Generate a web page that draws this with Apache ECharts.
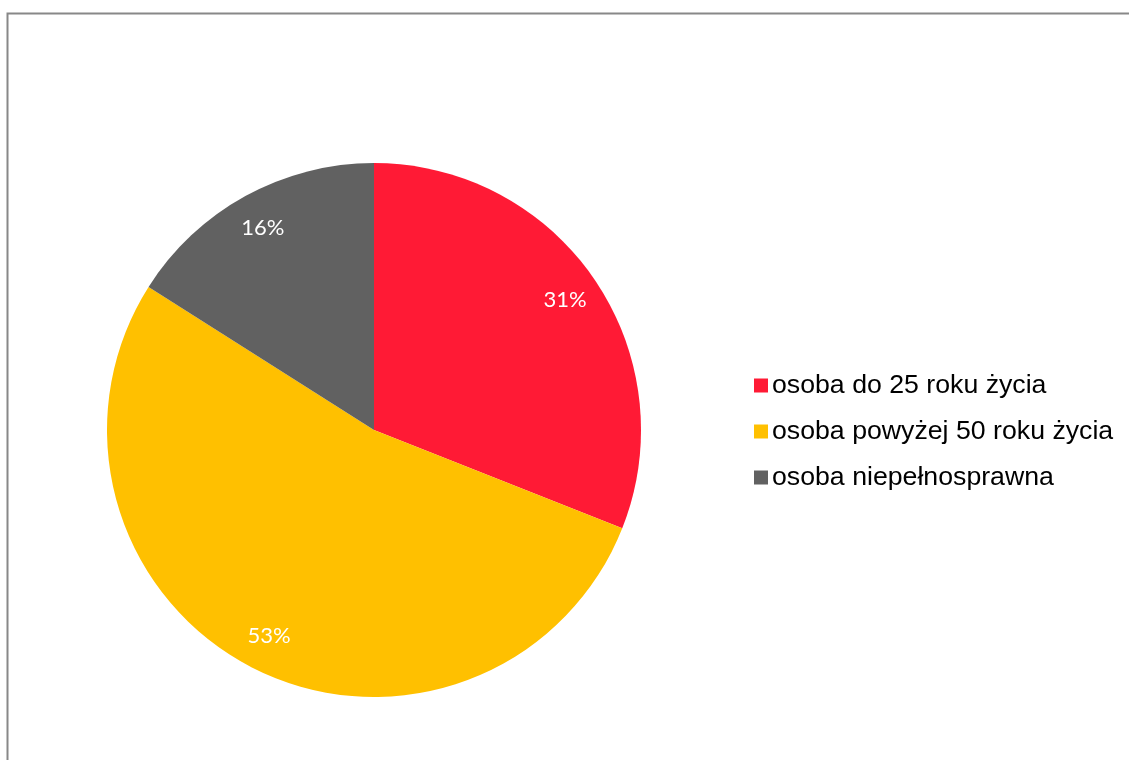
<!DOCTYPE html>
<html>
<head>
<meta charset="utf-8">
<script src="https://cdn.jsdelivr.net/npm/echarts@6/dist/echarts.min.js"></script>
<style>
html,body{margin:0;padding:0;background:#fff;}
#chart{width:1129px;height:760px;}
</style>
</head>
<body>
<div id="chart"></div>
<script>
const categories = ['osoba do 25 roku życia', 'osoba powyżej 50 roku życia', 'osoba niepełnosprawna'];
const values = [31, 53, 16];
const colors = ['#FF1A35', '#FFC000', '#616161'];

const chart = echarts.init(document.getElementById('chart'));
const mainData = categories.map((c, i) => ({ name: c, value: values[i], itemStyle: { color: colors[i] } }));
const labelData = categories.map((c, i) => ({ name: c, value: values[i] }));

chart.setOption({
  animation: false,
  graphic: [{
    type: 'rect', left: 5, top: 11,
    shape: { x: 0, y: 0, width: 1300, height: 900 },
    style: { fill: 'none', stroke: '#888888', lineWidth: 2 },
    silent: true, z: -10
  }],
  legend: {
    orient: 'vertical',
    left: 754,
    top: 372,
    padding: 0,
    icon: 'rect',
    itemWidth: 14,
    itemHeight: 14,
    itemGap: 19,
    data: categories,
    textStyle: { fontFamily: 'Liberation Sans, Arial, sans-serif', fontSize: 26.7, color: '#000', padding: [0, 0, 0, -1] }
  },
  series: [{
    type: 'pie',
    center: [374, 430],
    radius: [0, 267],
    startAngle: 90,
    clockwise: true,
    label: { show: false },
    labelLine: { show: false },
    data: mainData,
    silent: true
  }, {
    type: 'pie',
    center: [374, 430],
    radius: [200, 256],
    startAngle: 90,
    clockwise: true,
    itemStyle: { color: 'rgba(0,0,0,0)' },
    label: {
      show: true,
      position: 'inside',
      formatter: '{d}%',
      color: '#fff',
      fontSize: 22,
      fontFamily: 'Lato, "Open Sans", sans-serif'
    },
    labelLine: { show: false },
    data: labelData,
    silent: true
  }]
});
</script>
</body>
</html>
